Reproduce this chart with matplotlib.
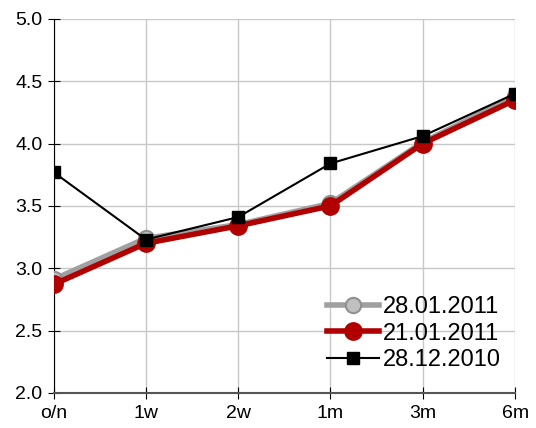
import matplotlib
matplotlib.use("Agg")
import matplotlib.pyplot as plt

plt.rcParams['font.family'] = ['Liberation Sans', 'DejaVu Sans']

tenors = ["o/n", "1w", "2w", "1m", "3m", "6m"]
rates_28jan2011 = [2.91, 3.24, 3.35, 3.52, 4.01, 4.38]
rates_21jan2011 = [2.87, 3.20, 3.34, 3.50, 4.00, 4.35]
rates_28dec2010 = [3.77, 3.23, 3.41, 3.84, 4.06, 4.40]
y_ticks = [2.0, 2.5, 3.0, 3.5, 4.0, 4.5, 5.0]

fig = plt.figure(figsize=(5.36, 4.28), dpi=100)
ax = fig.add_axes([0.1, 0.082, 0.861, 0.874])

x = range(len(tenors))
ax.plot(x, rates_28jan2011, color="#a0a0a0", lw=4, marker="o", ms=11,
        mfc="#c0c0c0", mec="#909090", mew=1.5, label="28.01.2011", zorder=3)
ax.plot(x, rates_21jan2011, color="#b00000", lw=4, marker="o", ms=12.5,
        mfc="#b00000", mec="#b00000", label="21.01.2011", zorder=4)
ax.plot(x, rates_28dec2010, color="black", lw=1.5, marker="s", ms=8,
        mfc="black", mec="black", label="28.12.2010", zorder=5)

ax.set_xlim(0, len(tenors) - 1)
ax.set_ylim(2.0, 5.0)
ax.set_xticks(list(x))
ax.set_xticklabels(tenors)
ax.set_yticks(y_ticks)
ax.set_yticklabels([f"{v:.1f}" for v in y_ticks])

ax.grid(True, color="#c8c8c8", lw=1)
ax.set_axisbelow(True)
for s in ("top", "right"):
    ax.spines[s].set_visible(False)
ax.spines["left"].set_color("black")
ax.spines["bottom"].set_color("#555555")
ax.spines["bottom"].set_linewidth(1.5)
ax.tick_params(axis="both", direction="inout", length=8, labelsize=14, colors="black")
ax.tick_params(axis="x", pad=5)
ax.tick_params(axis="y", pad=4)

leg = ax.legend(loc="lower right", frameon=False, fontsize=17, handlelength=2.2,
                handletextpad=0.15, labelspacing=0.2, borderaxespad=0.2,
                bbox_to_anchor=(1.0, 0.02))

fig.savefig("out.png", dpi=100)
